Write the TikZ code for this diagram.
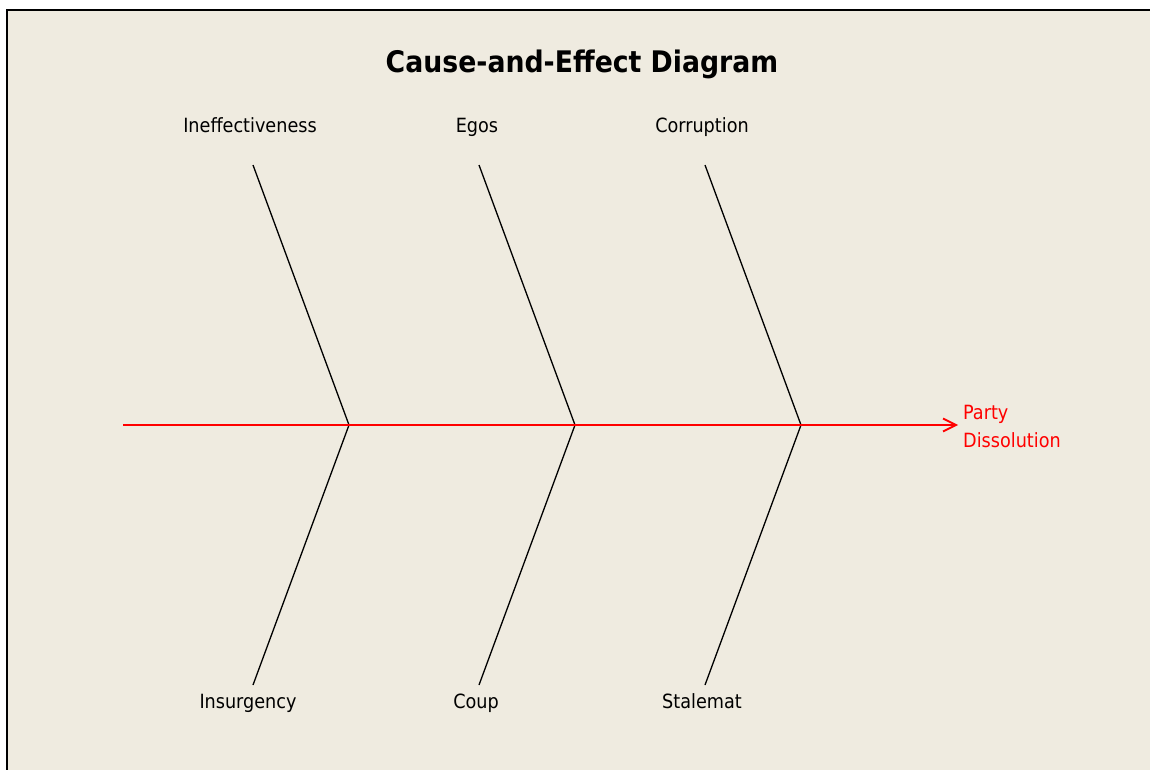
\documentclass[tikz,border=0pt]{standalone}
\usepackage{fontspec}
\setmainfont{DejaVu Sans Condensed}
\usetikzlibrary{arrows.meta}
\definecolor{bgbeige}{RGB}{239,235,224}
\tikzset{
  lbl/.style={anchor=base, inner sep=0pt, font=\fontsize{19.6}{23}\selectfont, text=black},
  bone/.style={draw=black, line width=1.3pt},
  spine/.style={draw=red, line width=1.8pt, -{Straight Barb[length=13pt,width=13pt,line width=1.8pt]}},
  effect/.style={anchor=base west, inner sep=0pt, align=left, font=\fontsize{19.6}{28}\selectfont, text=red},
  titlestyle/.style={anchor=base, inner sep=0pt, font=\fontsize{29.7}{34}\selectfont\bfseries}
}
\begin{document}
\begin{tikzpicture}[x=1pt,y=-1pt]
\useasboundingbox (0,0) rectangle (1150,770);
\fill[white] (0,0) rectangle (1150,770);
\fill[bgbeige] (7,10) rectangle (1160,780);
\draw[black, line width=2.6pt] (7,780) -- (7,10) -- (1160,10);

\node[titlestyle] (title) at (582,73) {Cause-and-Effect Diagram};

% spine
\coordinate (tail) at (123,425);
\coordinate (head) at (958,425);
\coordinate (j1) at (349,425);
\coordinate (j2) at (575,425);
\coordinate (j3) at (801,425);

% bone ends
\coordinate (t1) at (253,165);
\coordinate (t2) at (479,165);
\coordinate (t3) at (705,165);
\coordinate (b1) at (253,685);
\coordinate (b2) at (479,685);
\coordinate (b3) at (705,685);

\draw[bone] (t1) -- (j1) -- (b1);
\draw[bone] (t2) -- (j2) -- (b2);
\draw[bone] (t3) -- (j3) -- (b3);

\draw[spine] (tail) -- (head);

% labels
\node[lbl] (l1) at (250,133) {Ineffectiveness};
\node[lbl] (l2) at (477,133) {Egos};
\node[lbl] (l3) at (702,133) {Corruption};
\node[lbl] (l4) at (248,708) {Insurgency};
\node[lbl] (l5) at (476,708) {Coup};
\node[lbl] (l6) at (702,708) {Stalemat};

\node[effect] (effect) at (963,447) {Party\\Dissolution};
\end{tikzpicture}
\end{document}
